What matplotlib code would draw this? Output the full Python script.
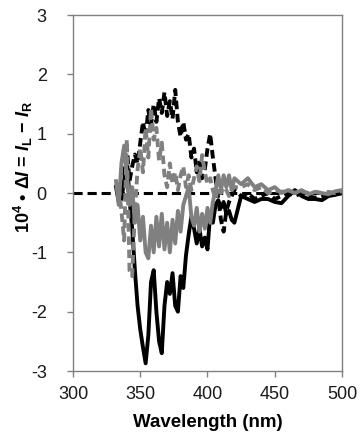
import numpy as np
import matplotlib
matplotlib.use("Agg")
import matplotlib.pyplot as plt

plt.rcParams["font.family"] = ["Liberation Sans", "DejaVu Sans"]
plt.rcParams["mathtext.fontset"] = "custom"
plt.rcParams["mathtext.rm"] = "Liberation Sans:bold"
plt.rcParams["mathtext.bf"] = "Liberation Sans:bold"
plt.rcParams["mathtext.it"] = "Liberation Sans:bold:italic"
plt.rcParams["mathtext.default"] = "rm"
plt.rcParams["axes.unicode_minus"] = False

# wavelength grid (nm): 2 nm steps up to 420, then 5 nm steps
wavelength = list(range(330, 421, 2)) + list(range(425, 501, 5))

nan = np.nan
black_solid = [
    nan, 0.1, -0.15, -0.1, 0.2, 0.6, -0.1, -0.6, -1.3, -1.9,
    -2.3, -2.6, -2.87, -2.4, -1.5, -1.3, -2.0, -2.5, -2.7, -1.9,
    -1.5, -1.7, -1.35, -1.9, -2.0, -1.4, -1.6, -1.05, -0.7, -0.4,
    -0.6, -0.85, -0.6, -0.9, -0.75, -0.95, -0.35, -0.5, -0.2, -0.12,
    -0.25, -0.15, -0.35, -0.3, -0.45, -0.5,
    -0.05, -0.1, -0.15, -0.1, -0.1, -0.15, -0.17, -0.05, 0.05, -0.05,
    -0.1, -0.1, -0.12, -0.05, -0.03, 0.0,
]
black_dashed = [
    nan, 0.15, 0.05, -0.1, 0.3, 0.8, 0.2, 0.45, 0.65, 0.5,
    0.85, 1.2, 0.95, 1.4, 1.15, 1.5, 1.2, 1.6, 1.35, 1.7,
    1.3, 1.55, 1.25, 1.74, 1.2, 0.95, 1.2, 0.9, 1.0, 0.6,
    0.75, 0.35, 0.55, 0.25, 0.4, 0.75, 1.0, 0.6, 0.25, -0.1,
    -0.45, -0.65, -0.3, -0.15, -0.05, 0.05,
    -0.05, 0.0, -0.1, -0.05, 0.0, -0.1, -0.05, 0.0, -0.05, 0.0,
    -0.05, -0.08, -0.05, 0.0, -0.02, 0.0,
]
gray_solid = [
    nan, 0.2, -0.2, 0.5, 0.8, 0.3, -0.2, 0.1, -0.5, -0.2,
    -0.8, -0.4, -1.0, -1.1, -0.55, -1.0, -0.4, -0.9, -0.35, -0.95,
    -0.5, -1.0, -0.45, -0.85, -0.3, -0.65, -0.2, -0.05, 0.1, -0.4,
    -0.55, -0.25, -0.65, -0.35, -0.6, -0.25, -0.5, -0.15, 0.05, 0.3,
    0.05, 0.3, 0.1, 0.3, 0.05, 0.25,
    0.15, 0.25, 0.1, 0.15, 0.05, 0.1, 0.0, 0.05, 0.0, 0.05,
    -0.02, 0.02, 0.0, -0.02, 0.03, 0.05,
]
gray_dashed = [
    nan, nan, 0.1, -0.3, -0.8, 0.9, -1.3, -1.4, -0.3, 0.4,
    0.75, 0.35, 1.1, 0.6, 1.43, 0.9, 1.1, 0.55, 0.85, 0.3,
    0.1, 0.5, 0.15, 0.35, 0.05, 0.3, 0.45, 0.1, 0.3, 0.05,
    0.25, 0.45, 0.2, 0.64, 0.35, 0.15, 0.25, 0.05, -0.1, 0.1,
    0.0, 0.1, 0.05, -0.05, 0.05, 0.1,
    0.1, 0.15, 0.05, 0.1, 0.0, 0.05, 0.02, 0.05, 0.0, 0.03,
    0.0, 0.02, 0.0, 0.02, 0.0, 0.03,
]

y_ticks = [-3, -2, -1, 0, 1, 2, 3]
x_ticks = [300, 350, 400, 450, 500]

gray = "#808080"
fig = plt.figure(figsize=(3.62, 4.41), dpi=100)
ax = fig.add_axes([0.2017, 0.1587, 0.743, 0.807])

ax.axhline(0, color="black", lw=2.2, dashes=(3.0, 1.6), zorder=1)
ax.plot(wavelength, black_solid, color="black", lw=2.8, zorder=2)
ax.plot(wavelength, black_dashed, color="black", lw=2.8, dashes=(2.2, 1.2), zorder=3)
ax.plot(wavelength, gray_solid, color=gray, lw=2.8, zorder=4)
ax.plot(wavelength, gray_dashed, color=gray, lw=2.8, dashes=(2.2, 1.2), zorder=5)

ax.set_xlim(300, 500)
ax.set_ylim(-3, 3)
ax.set_xticks(x_ticks)
ax.set_yticks(y_ticks)
for s in ax.spines.values():
    s.set_color(gray)
    s.set_linewidth(1.0)
ax.tick_params(direction="out", length=4, width=1.0, color=gray,
               labelsize=13, labelcolor="#1a1a1a")
ax.tick_params(axis="x", pad=7)
ax.tick_params(axis="y", pad=15)

ax.set_xlabel("Wavelength (nm)", fontsize=13.5, fontweight="bold", labelpad=8)
ax.set_ylabel(r"$10^4$ • $\Delta\mathit{I}$ = $\mathit{I}_\mathrm{L}$ − $\mathit{I}_\mathrm{R}$",
              fontsize=13, fontweight="bold")
ax.yaxis.set_label_coords(-0.141, 0.573)

fig.savefig("out.png", dpi=100)
